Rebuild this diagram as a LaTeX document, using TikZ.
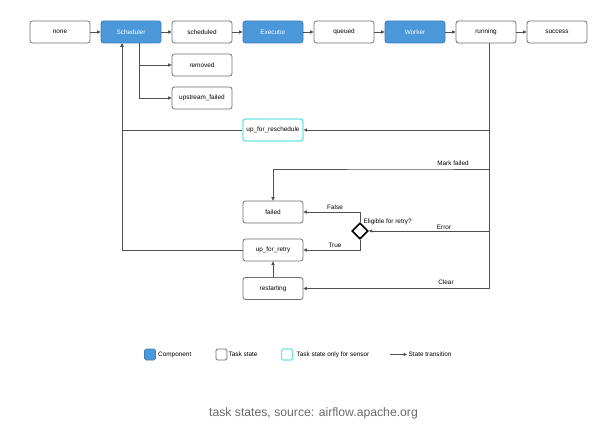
\documentclass[tikz,border=0pt]{standalone}
\usepackage{fontspec}
\setmainfont{Liberation Sans}
\usetikzlibrary{arrows.meta,shapes.geometric}
\definecolor{compblue}{HTML}{4A98DA}
\definecolor{sensorcyan}{HTML}{6EE6E6}
\definecolor{boxgray}{HTML}{707070}
\definecolor{linegray}{HTML}{505050}
\definecolor{capgray}{HTML}{6B6B6B}
\tikzset{
  every node/.style={font=\fontsize{6.4}{7}\selectfont},
  statebox/.style={draw=boxgray, line width=0.8pt, rounded corners=2.5pt, minimum width=60pt, minimum height=22pt, inner sep=0pt, fill=white},
  compbox/.style={statebox, draw=compblue!85!black, fill=compblue, text=white},
  sensorbox/.style={statebox, draw=sensorcyan, line width=1.4pt},
  conn/.style={draw=linegray, line width=0.8pt},
  arr/.style={conn, -{Triangle[length=3.4pt,width=3.2pt]}},
  decision/.style={diamond, draw=black, line width=1.6pt, minimum width=16pt, minimum height=16pt, inner sep=0pt, fill=white},
  lbl/.style={inner sep=0.5pt},
  legsq/.style={rounded corners=1.5pt, minimum width=11pt, minimum height=11pt, inner sep=0pt}
}
\begin{document}
\begin{tikzpicture}[x=1pt,y=-1pt]
\useasboundingbox[fill=white] (0,0) rectangle (612,433);
% top row
\node[statebox] (none) at (60,32) {none};
\node[compbox] (sched) at (131,32) {Scheduler};
\node[statebox] (scheduled) at (202,32) {scheduled};
\node[compbox] (exec) at (273,32) {Executor};
\node[statebox] (queued) at (344,32) {queued};
\node[compbox] (worker) at (415,32) {Worker};
\node[statebox] (running) at (486,32) {running};
\node[statebox] (success) at (557,32) {success};
% branches
\node[statebox] (removed) at (202,65) {removed};
\node[statebox] (upfail) at (202,98) {upstream\_failed};
\node[sensorbox] (resched) at (273,130) {up\_for\_reschedule};
\node[statebox] (failed) at (273,212) {failed};
\node[statebox] (retry) at (273,250) {up\_for\_retry};
\node[statebox] (restart) at (273,288.5) {restarting};
\node[decision] (dia) at (360,231) {};
\coordinate (mf) at (420,169);
% connectors along the top
\draw[arr] (none) -- (sched);
\draw[arr] (sched) -- (scheduled);
\draw[arr] (scheduled) -- (exec);
\draw[arr] (exec) -- (queued);
\draw[arr] (queued) -- (worker);
\draw[arr] (worker) -- (running);
\draw[arr] (running) -- (success);
% scheduler branches
\draw[arr] ([xshift=8pt]sched.south) |- (removed.west);
\draw[arr] ([xshift=8pt]sched.south) |- (upfail.west);
% running trunk
\draw[arr] ([xshift=3pt]running.south) |- (resched.east);
\draw[arr] ([xshift=3pt]running.south) |- (mf) -| (failed.north);
\draw[arr] ([xshift=3pt]running.south) |- (dia.east);
\draw[arr] ([xshift=3pt]running.south) |- (restart.east);
% decision
\draw[arr] (dia.north) |- (failed.east);
\draw[arr] (dia.south) |- (retry.east);
\draw[arr] (restart.north) -- (retry.south);
% back to scheduler
\draw[arr] (resched.west) -| ([xshift=-9pt]sched.south);
\draw[arr] (retry.west) -| ([xshift=-9pt]sched.south);
% labels
\node[lbl] (lmf) at (453,163) {Mark failed};
\node[lbl] (lerr) at (444,227.5) {Error};
\node[lbl] (lclr) at (446,282.5) {Clear};
\node[lbl] (lfalse) at (335,207) {False};
\node[lbl] (ltrue) at (335,245) {True};
\node[lbl, anchor=west] (lelig) at (363,222) {Eligible for retry?};
% legend
\node[legsq, fill=compblue, draw=compblue!85!black, line width=0.6pt] (lg1) at (150,354.5) {};
\node[lbl, anchor=west] (lg1t) at (157.5,354.5) {Component};
\node[legsq, draw=boxgray, line width=0.8pt] (lg2) at (221.5,354.5) {};
\node[lbl, anchor=west] (lg2t) at (228,354.5) {Task state};
\node[legsq, draw=sensorcyan, line width=1.2pt] (lg3) at (287,354.5) {};
\node[lbl, anchor=west] (lg3t) at (296,354.5) {Task state only for sensor};
\coordinate (la) at (390,354.5);
\coordinate (lb) at (407,354.5);
\draw[arr] (la) -- (lb);
\node[lbl, anchor=west] (lg4t) at (408,354.5) {State transition};
% caption
\node[font=\fontsize{12.2}{14}\selectfont, text=capgray] (cap) at (313.5,413) {task states, source: airflow.apache.org};
\end{tikzpicture}
\end{document}
